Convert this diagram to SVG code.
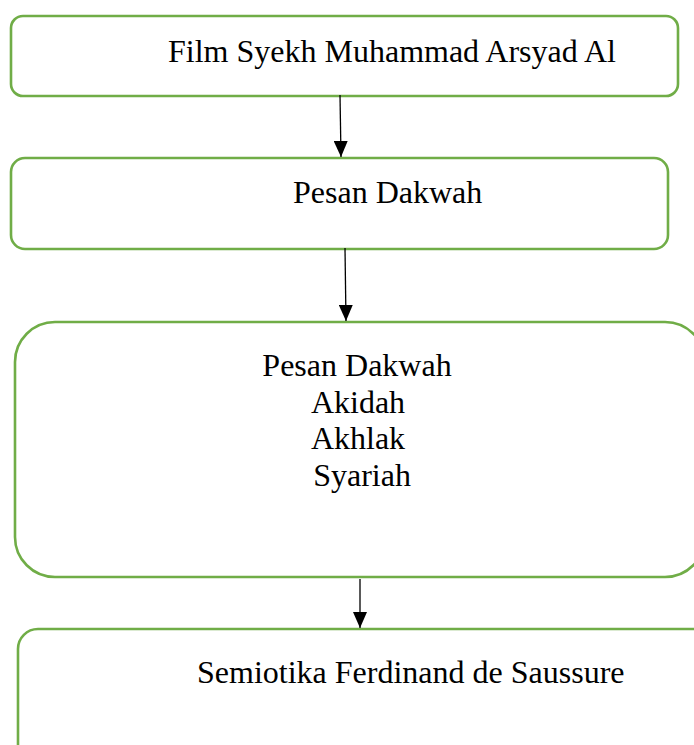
<svg xmlns="http://www.w3.org/2000/svg" width="694" height="745" viewBox="0 0 694 745">
<style>
.box{fill:#ffffff;stroke:#70AD47;stroke-width:2.6}
.t{font-family:"Liberation Serif","Times New Roman",serif;font-size:32px;fill:#000}
.c{stroke:#000;stroke-width:1.3;fill:none}
</style>
<defs>
<marker id="ah" markerWidth="16" markerHeight="14" refX="16" refY="7" orient="auto" markerUnits="userSpaceOnUse" viewBox="0 0 16 14">
<path d="M0,0 L16,7 L0,14 Z" fill="#000"/>
</marker>
</defs>
<rect width="694" height="745" fill="#ffffff"/>
<g id="n1">
<rect class="box" x="11" y="16" width="667" height="80" rx="12"/>
<text class="t" x="168" y="62">Film Syekh Muhammad Arsyad Al</text>
</g>
<g id="n2">
<rect class="box" x="11" y="158" width="657" height="91" rx="14"/>
<text class="t" x="293" y="203">Pesan Dakwah</text>
</g>
<g id="n3">
<rect class="box" x="15" y="322" width="690" height="255" rx="40"/>
<text class="t" x="357" y="376" text-anchor="middle">Pesan Dakwah</text>
<text class="t" x="358" y="413" text-anchor="middle">Akidah</text>
<text class="t" x="358" y="449" text-anchor="middle">Akhlak</text>
<text class="t" x="362" y="486" text-anchor="middle">Syariah</text>
</g>
<g id="n4">
<rect class="box" x="18" y="629" width="700" height="140" rx="20"/>
<text class="t" x="197" y="683">Semiotika Ferdinand de Saussure</text>
</g>
<g id="connectors">
<line class="c" x1="340" y1="95" x2="341" y2="157" marker-end="url(#ah)"/>
<line class="c" x1="345" y1="248" x2="346" y2="321" marker-end="url(#ah)"/>
<line class="c" x1="360" y1="579" x2="360" y2="628" marker-end="url(#ah)"/>
</g>
</svg>
